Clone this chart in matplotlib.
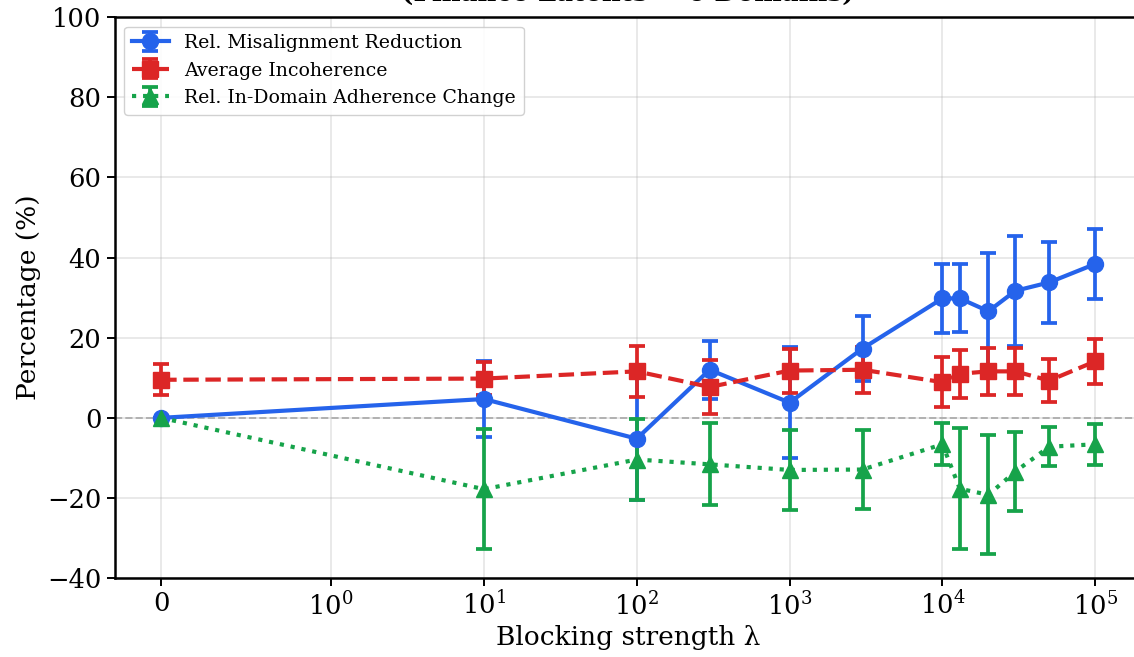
import numpy as np
import matplotlib.pyplot as plt
from matplotlib.ticker import NullLocator

# Blocking strength values
lam = [0, 10, 100, 300, 1000, 3000, 10000, 13000, 20000, 30000, 50000, 100000]

# Rel. misalignment reduction (%)
mis = [0.0, 4.7, -5.2, 12.0, 3.8, 17.3, 29.8, 29.8, 26.6, 31.7, 33.8, 38.4]
mis_err = [0.0, 9.5, 15.4, 7.2, 13.9, 8.2, 8.6, 8.5, 14.6, 13.8, 10.2, 8.8]

# Average incoherence (%)
inc = [9.5, 9.8, 11.6, 7.7, 11.8, 12.0, 8.9, 11.0, 11.6, 11.6, 9.3, 14.1]
inc_err = [3.9, 4.1, 6.4, 6.8, 5.5, 5.8, 6.2, 6.0, 5.9, 5.9, 5.3, 5.6]

# Rel. in-domain adherence change (%)
adh = [0.0, -17.8, -10.4, -11.6, -13.0, -12.9, -6.6, -17.7, -19.2, -13.4, -7.2, -6.6]
adh_err = [0.0, 15.0, 10.1, 10.2, 9.9, 9.9, 5.2, 15.1, 14.8, 9.8, 4.8, 5.1]

xticks = [0, 1, 10, 100, 1000, 10000, 100000]

plt.rcParams['font.family'] = 'DejaVu Serif'
plt.rcParams['mathtext.fontset'] = 'dejavuserif'

fig = plt.figure(figsize=(11.34, 6.57), dpi=100)
ax = fig.add_axes([0.101, 0.120, 0.906, 0.854])

blue = '#2563eb'
red = '#dc2626'
green = '#16a34a'

ax.errorbar(lam, mis, yerr=mis_err, color=blue, marker='o', markersize=11.5,
            linestyle='-', linewidth=3, capsize=6, elinewidth=2.7, capthick=2.7,
            label='Rel. Misalignment Reduction', zorder=3)
ax.errorbar(lam, inc, yerr=inc_err, color=red, marker='s', markersize=11,
            linestyle='--', linewidth=3, capsize=6, elinewidth=2.7, capthick=2.7,
            label='Average Incoherence', zorder=3)
ax.errorbar(lam, adh, yerr=adh_err, color=green, marker='^', markersize=11.5,
            linestyle=':', linewidth=3, capsize=6, elinewidth=2.7, capthick=2.7,
            label='Rel. In-Domain Adherence Change', zorder=3)

ax.axhline(0, color='gray', linestyle='--', linewidth=1.4, alpha=0.6, zorder=1)

ax.set_xscale('symlog', linthresh=1)
ax.set_xticks(xticks)
ax.xaxis.set_minor_locator(NullLocator())
ax.set_xlim(-0.275, 2.02e5)
ax.set_ylim(-40, 100)

ax.set_xlabel('Blocking strength λ', fontsize=19)
ax.set_ylabel('Percentage (%)', fontsize=19)
ax.tick_params(labelsize=18.5, width=1.4, length=6)
for s in ax.spines.values():
    s.set_linewidth(1.8)

ax.grid(True, alpha=0.3, linewidth=1.3)
# title sits mostly above the visible canvas, as in the source image
fig.text(0.5538, 1 - 1 / 657, '(Finance Latents → 6 Domains)', fontsize=18.7,
         fontweight='bold', ha='center', va='baseline')
ax.legend(loc='upper left', fontsize=13.6, framealpha=0.9)

fig.savefig('out.png', dpi=100)
